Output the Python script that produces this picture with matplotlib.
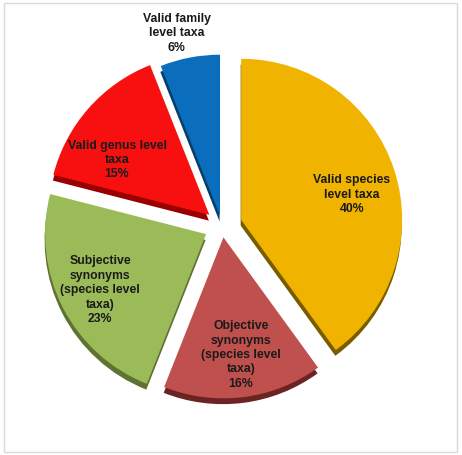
import matplotlib.pyplot as plt
import matplotlib.patches as mpatches

labels = ['Valid species\nlevel taxa', 'Objective\nsynonyms\n(species level\ntaxa)',
          'Subjective\nsynonyms\n(species level\ntaxa)', 'Valid genus level\ntaxa',
          'Valid family\nlevel taxa']
shares = [40, 16, 23, 15, 6]
colors = ['#F0B400', '#C0504D', '#9BBB59', '#F81010', '#0A6EBD']
side_colors = ['#7A5C00', '#6B2422', '#5E7232', '#9A0000', '#063F6E']

# per-slice pull-out and label spots (pie centre = 0,0, radius 1)
explode = [0.125, 0.071, 0.111, 0.105, 0.065]
label_xy = [(0.807, 0.193), (0.118, -0.801), (-0.758, -0.398),
            (-0.652, 0.410), (-0.280, 1.196)]

plt.rcParams['font.family'] = ['Liberation Sans', 'DejaVu Sans']

fig = plt.figure(figsize=(4.62, 4.55), dpi=100)
ax = fig.add_axes([0, 0, 1, 1])

# dark copy shifted down gives the 3D rim
ax.pie(shares, colors=side_colors, startangle=90, counterclock=False,
       explode=explode, radius=1, center=(-0.003, -0.036),
       wedgeprops=dict(linewidth=0))
ax.pie(shares, colors=colors, startangle=90, counterclock=False,
       explode=explode, radius=1, wedgeprops=dict(linewidth=0))

for lab, s, (x, y) in zip(labels, shares, label_xy):
    ax.text(x, y, f'{lab}\n{s}%', ha='center', va='center', fontsize=8.8,
            fontweight='bold', linespacing=1.27, color='#1a1a1a')

ax.set_aspect('auto')
ax.set_xlim(-222 / 161, (462 - 222) / 161)
ax.set_ylim(-229 / 161, 226 / 161)
ax.axis('off')

fig.patches.append(mpatches.Rectangle((4 / 462, 3 / 455), 453 / 462, 449 / 455,
                                      transform=fig.transFigure, fill=False,
                                      edgecolor='#d9d9d9', linewidth=1))

fig.savefig('out.png', dpi=100)
